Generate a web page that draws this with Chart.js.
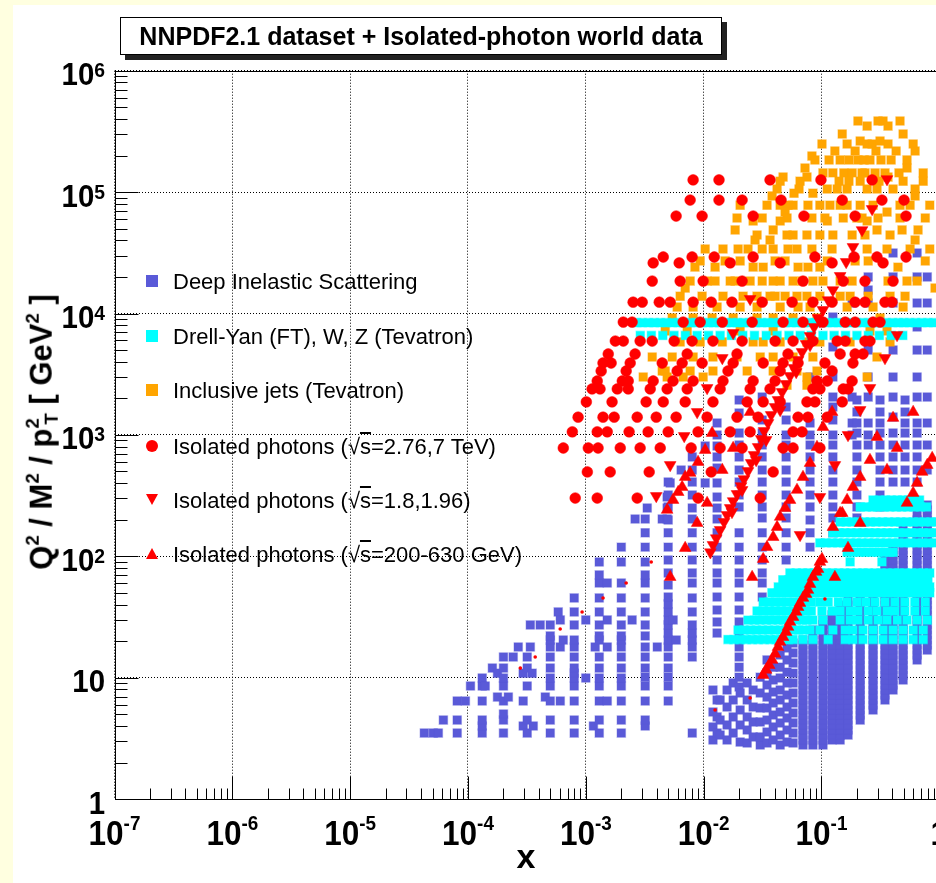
<!DOCTYPE html>
<html>
<head>
<meta charset="utf-8">
<script src="https://cdn.jsdelivr.net/npm/chart.js@4.4.1/dist/chart.umd.min.js"></script>
<style>
  html, body { margin: 0; padding: 0; background: #fff; overflow: hidden; }
  #wrap { position: relative; width: 936px; height: 883px; overflow: hidden; }
  .stripe-left { position: absolute; left: 0; top: 0; width: 13px; height: 883px; background: #ffffe0; }
  .stripe-top { position: absolute; left: 0; top: 0; width: 936px; height: 5px; background: #ffffe0; }
  #chart { position: absolute; left: 0; top: 0; }
  #title {
    position: absolute; left: 120px; top: 17px; width: 600px; height: 36px;
    border: 1px solid #000; background: #fff; box-shadow: 5px 5px 0 #222;
    font: bold 25px 'Liberation Sans', Arial, sans-serif; text-align: center; line-height: 37px;
  }
  #ytitle {
    position: absolute; left: 42px; top: 432px; white-space: nowrap; line-height: 1;
    transform: translate(-50%, -50%) rotate(-90deg);
    font: bold 31px 'Liberation Sans', Arial, sans-serif;
  }
  #ytitle sup { font-size: 0.6em; vertical-align: 0.7em; }
  #ytitle sub { font-size: 0.6em; vertical-align: -0.3em; }
  #ytitle .t { margin-left: -0.34em; }
  .leg { position: absolute; left: 146px; height: 24px; line-height: 24px; padding-left: 27px;
         font: 22px 'Liberation Sans', Arial, sans-serif; white-space: nowrap; }
  .mk { position: absolute; left: 0; }
  .sq { width: 12px; height: 12px; top: 6px; }
  .ci { width: 12px; height: 12px; top: 6px; border-radius: 50%; background: #f00; }
  .dn { width: 0; height: 0; top: 6px; border-left: 6px solid transparent; border-right: 6px solid transparent; border-top: 11px solid #f00; }
  .up { width: 0; height: 0; top: 6px; border-left: 6px solid transparent; border-right: 6px solid transparent; border-bottom: 11px solid #f00; }
  .ov { text-decoration: overline; }
</style>
</head>
<body>
<div id="wrap">
  <div class="stripe-left"></div>
  <div class="stripe-top"></div>
  <canvas id="chart" width="960" height="883"></canvas>
  <div id="title">NNPDF2.1 dataset + Isolated-photon world data</div>
  <div id="ytitle">Q<sup>2</sup> / M<sup>2</sup> / p<sup>2</sup><sub class="t">T</sub> [ GeV<sup>2</sup> ]</div>
  <div class="leg" style="top:269px"><span class="mk sq" style="background:#5a5ad8"></span>Deep Inelastic Scattering</div>
  <div class="leg" style="top:324px"><span class="mk sq" style="background:#00ffff"></span>Drell-Yan (FT), W, Z (Tevatron)</div>
  <div class="leg" style="top:378px"><span class="mk sq" style="background:#ffa500"></span>Inclusive jets (Tevatron)</div>
  <div class="leg" style="top:434px"><span class="mk ci"></span>Isolated photons (√<span class="ov">s</span>=2.76,7 TeV)</div>
  <div class="leg" style="top:488px"><span class="mk dn"></span>Isolated photons (√<span class="ov">s</span>=1.8,1.96)</div>
  <div class="leg" style="top:542px"><span class="mk up"></span>Isolated photons (√<span class="ov">s</span>=200-630 GeV)</div>
</div>
<script>
// axis decades
const xTickValues = [1e-7, 1e-6, 1e-5, 1e-4, 1e-3, 1e-2, 1e-1, 1];
const xTickLabels = [['10', '-7'], ['10', '-6'], ['10', '-5'], ['10', '-4'], ['10', '-3'], ['10', '-2'], ['10', '-1'], ['1', '']];
const yTickValues = [1, 10, 1e2, 1e3, 1e4, 1e5, 1e6];
const yTickLabels = [['1', ''], ['10', ''], ['10', '2'], ['10', '3'], ['10', '4'], ['10', '5'], ['10', '6']];

// Deep inelastic scattering: x bins and the Q2 values in each bin
const disX = [4.26e-5, 5.08e-5, 5.6e-5, 6.18e-5, 8.1e-5, 9.5e-5, 1.05e-4, 1.32e-4, 1.4e-4, 1.61e-4,
  1.78e-4, 2.0e-4, 2.2e-4, 2.42e-4, 2.67e-4, 2.94e-4, 3.18e-4, 3.38e-4, 3.5e-4, 3.58e-4,
  4.1e-4, 4.53e-4, 4.99e-4, 5.83e-4, 6.07e-4, 6.43e-4, 7.97e-4, 1.0e-3, 1.16e-3, 1.2e-3,
  1.3e-3, 1.52e-3, 2.0e-3, 2.47e-3, 2.62e-3, 3.19e-3, 3.32e-3, 4.04e-3, 4.45e-3, 4.9e-3,
  5.0e-3, 5.2e-3, 5.51e-3, 5.85e-3, 6.44e-3, 8.0e-3, 1.03e-2, 1.20e-2, 1.30e-2, 1.38e-2,
  1.58e-2, 1.78e-2, 2.0e-2, 2.04e-2, 2.34e-2, 2.63e-2, 3.02e-2, 3.14e-2, 3.45e-2, 3.89e-2,
  4.46e-2, 5.01e-2, 5.1e-2, 5.74e-2, 8.0e-2, 0.125, 0.182, 0.20, 0.249, 0.314,
  0.405, 0.512, 0.648, 0.79,
  6.97e-2, 8.46e-2, 0.103, 0.123, 0.144, 0.168, 0.213, 0.274, 0.346, 0.405, 0.493, 0.648, 0.79];
const disQ2 = [
  [3.5], [3.5], [3.5], [4.48], [3.5, 4.48, 6.43], [6.43], [8.54], [3.5, 4.0, 4.48, 6.43, 8.54, 9.94], [8.54], [12.0],
  [6.93, 10.9], [3.5, 4.48, 5.02, 6.43, 8.54, 9.94, 12.0, 14.8], [6.93], [14.8], [17.9], [4.0, 6.43, 10.9], [3.5, 4.48, 8.54, 12.0, 14.8], [17.9, 27.2], [10.9], [4.0],
  [27.2], [6.93], [3.5, 4.48, 6.43, 8.54, 9.94, 12.0, 14.8, 17.9, 20.4, 22.1, 27.2], [34.8], [6.43, 17.9, 29.9], [20.4],
  [3.5, 4.48, 6.43, 8.54, 9.94, 10.9, 12.0, 14.8, 17.9, 20.4, 27.2, 34.8, 45.4], [9.94, 29.9], [4.0], [17.9],
  [3.5, 4.48, 6.43, 8.54, 9.94, 12.0, 14.8, 20.4, 22.1, 27.2, 34.8, 45.4, 60.3, 70.2, 89.8],
  [6.43, 17.9, 29.9, 60.3],
  [3.5, 4.48, 6.43, 8.54, 9.94, 12.0, 14.8, 17.9, 20.4, 22.1, 27.2, 34.8, 45.4, 60.3, 89.8, 119],
  [29.9], [203],
  [4.0, 4.48, 6.43, 8.54, 10.1, 12.0, 14.8, 17.9, 22.1, 27.2, 34.8, 45.4, 60.3, 70.2, 89.8, 119, 156, 203],
  [250], [17.9], [203], [203, 250, 308],
  [6.43, 8.54, 10.1, 12.0, 14.8, 17.9, 20.4, 23.3, 27.2, 29.9, 34.8, 40.5, 46.2, 58.0, 72.9, 93.2, 119, 156, 199, 255, 320, 409],
  [402], [29.9], [20.4], [514],
  [3.5, 14.8, 17.9, 20.4, 23.3, 27.2, 34.8, 45.4, 60.3, 72.9, 93.2, 119, 156, 203, 250, 320, 409, 514, 658],
  [402, 810], [3.07, 3.93, 5.22, 7.92],
  [3.5, 4.75, 6.55, 23.3, 28.8, 36.1, 46.2, 60.3, 72.9, 93.2, 119, 156, 203, 250, 308, 402, 534, 658, 810, 998, 1253],
  [3.37, 4.48, 6.55],
  [3.07, 4.08, 5.74, 7.92], [3.5, 4.75, 6.55, 9.05],
  [8.38, 10.1, 12.2, 14.8, 17.9, 23.3, 28.8, 36.1, 46.2, 60.3, 72.9, 93.2, 119, 156, 255, 320, 409, 514, 658, 826, 1036, 1515, 1938],
  [2.95, 4.08, 5.42, 7.48], [2.9, 3.71, 4.75, 6.55, 9.05], [3.25, 4.32, 5.74, 7.92], [2.79, 3.25, 4.32, 5.63, 7.48, 10.1],
  [46.2, 60.3, 72.9, 93.2, 119, 156, 207, 255, 320, 409, 514, 658, 826, 1036, 1327, 2050],
  [2.9, 3.57, 4.48, 5.63, 6.93, 8.71, 10.9, 14.0], [3.07, 3.93, 4.93, 6.19, 7.62, 9.57, 12.2],
  [2.79, 3.37, 4.24, 5.22, 6.55, 7.92, 9.94, 12.2, 15.4],
  [93.2, 119, 156, 207, 255, 320, 409, 514, 658, 826, 998, 1327, 1697],
  [2.95, 3.71, 4.66, 5.74, 7.2, 9.05, 11.1, 14.0, 17.6],
  [2.9, 3.5, 4.24, 5.12, 6.19, 7.48, 9.05, 10.9, 13.2, 16.0, 19.3],
  [119, 156, 199, 255, 320, 409, 514, 658, 826, 998, 1253, 3000],
  [156, 207, 255, 320, 409, 514, 658, 826, 998, 1327, 1697, 2050, 3000, 5300, 9360],
  [998, 1253, 2050, 12200],
  [207, 255, 320, 409, 514, 658, 826, 1036, 1253, 1544, 1938],
  [826, 998, 1253, 2050, 3000, 5000, 12200, 15600, 20000],
  [255, 320, 409, 514, 658, 826, 1036, 1253, 1544, 1938],
  [409, 514, 658, 826, 1036, 1404, 2050, 3000, 5000, 12200, 20000, 31500],
  [409, 514, 658, 826, 1036, 1253, 1544, 1938],
  [409, 514, 658, 826, 1036, 1253, 2050, 3000, 5000, 7740, 12200, 20000, 31500],
  [514, 826, 1253, 2050, 5000, 12200, 20000],
  // fixed-target columns
  [2.79, 3.07, 3.37, 3.71, 4.08, 4.48, 4.93, 5.42, 5.96, 6.55, 7.2, 7.92, 8.71, 9.57, 10.5, 11.6, 12.7, 14.0, 15.4, 16.9, 18.6, 20.4],
  [2.79, 3.07, 3.37, 3.71, 4.08, 4.48, 4.93, 5.42, 5.96, 6.55, 7.2, 7.92, 8.71, 9.57, 10.5, 11.6, 12.7, 14.0, 15.4, 16.9, 18.6, 20.4, 22.5, 24.7],
  [2.79, 3.07, 3.37, 3.71, 4.08, 4.48, 4.93, 5.42, 5.96, 6.55, 7.2, 7.92, 8.71, 9.57, 10.5, 11.6, 12.7, 14.0, 15.4, 16.9, 18.6, 20.4, 22.5, 24.7, 27.2, 29.9],
  [3.07, 3.37, 3.71, 4.08, 4.48, 4.93, 5.42, 5.96, 6.55, 7.2, 7.92, 8.71, 9.57, 10.5, 11.6, 12.7, 14.0, 15.4, 16.9, 18.6, 20.4, 22.5, 24.7, 27.2, 29.9, 32.9],
  [3.07, 3.37, 3.71, 4.08, 4.48, 4.93, 5.42, 5.96, 6.55, 7.2, 7.92, 8.71, 9.57, 10.5, 11.6, 12.7, 14.0, 15.4, 16.9, 18.6, 20.4, 22.5, 24.7, 27.2, 29.9, 32.9, 36.1, 39.7],
  [3.37, 3.71, 4.08, 4.48, 4.93, 5.42, 5.96, 6.55, 7.2, 7.92, 8.71, 9.57, 10.5, 11.6, 12.7, 14.0, 15.4, 16.9, 18.6, 20.4, 22.5, 24.7, 27.2, 29.9, 32.9, 36.1, 39.7, 43.6],
  [4.48, 4.93, 5.42, 5.96, 6.55, 7.2, 7.92, 8.71, 9.57, 10.5, 11.6, 12.7, 14.0, 15.4, 16.9, 18.6, 20.4, 22.5, 24.7, 27.2, 29.9, 32.9, 36.1, 39.7, 43.6, 48.0, 52.8],
  [5.42, 5.96, 6.55, 7.2, 7.92, 8.71, 9.57, 10.5, 11.6, 12.7, 14.0, 15.4, 16.9, 18.6, 20.4, 22.5, 24.7, 27.2, 29.9, 32.9, 36.1, 39.7, 43.6, 48.0, 52.8, 58.0, 63.8, 70.2],
  [6.55, 7.2, 7.92, 8.71, 9.57, 10.5, 11.6, 12.7, 14.0, 15.4, 16.9, 18.6, 20.4, 22.5, 24.7, 27.2, 29.9, 32.9, 36.1, 39.7, 43.6, 48.0, 52.8, 58.0, 63.8, 70.2, 77.1, 84.8, 93.2],
  [7.92, 8.71, 9.57, 10.5, 11.6, 12.7, 14.0, 15.4, 16.9, 18.6, 20.4, 22.5, 24.7, 27.2, 29.9, 32.9, 36.1, 39.7, 43.6, 48.0, 52.8, 58.0, 63.8, 70.2, 77.1, 84.8, 93.2, 102.5, 112.7, 123.9],
  [9.57, 10.5, 11.6, 12.7, 14.0, 15.4, 16.9, 18.6, 20.4, 22.5, 24.7, 27.2, 29.9, 32.9, 36.1, 39.7, 43.6, 48.0, 52.8, 58.0, 63.8, 70.2, 77.1, 84.8, 93.2, 102.5, 112.7, 123.9, 136.2, 149.8, 164.7],
  [14.0, 15.4, 16.9, 18.6, 20.4, 22.5, 24.7, 27.2, 29.9, 32.9, 36.1, 39.7, 43.6, 48.0, 52.8, 58.0, 63.8, 70.2, 77.1, 84.8, 93.2, 102.5, 112.7, 123.9, 136.2, 149.8, 164.7, 181.1, 199.1, 218.9],
  [16.9, 18.6, 20.4, 22.5, 24.7, 27.2, 29.9, 32.9, 36.1, 39.7, 43.6, 48.0, 52.8, 58.0, 63.8, 70.2, 77.1, 84.8, 93.2, 102.5, 112.7, 123.9, 136.2, 149.8, 164.7, 181.1, 199.1, 218.9, 240.6, 264.6]
];

// Drell-Yan / W / Z: each row is one mass bin (M2) with its x points
const dyM2 = [8400, 6600, 291, 255, 192, 156, 129, 108, 90,
  73, 64, 56, 50, 42, 35.4, 29.8, 24.7, 20.6];
const dyX = [
  [2.7e-3, 3.0e-3, 3.4e-3, 3.8e-3, 4.3e-3, 4.8e-3, 5.4e-3, 6.1e-3, 6.8e-3, 7.7e-3, 8.6e-3, 9.7e-3, 1.09e-2, 1.22e-2, 1.37e-2,
   1.54e-2, 1.73e-2, 1.94e-2, 2.18e-2, 2.45e-2, 2.75e-2, 3.1e-2, 3.5e-2, 3.9e-2, 4.4e-2, 4.9e-2, 5.5e-2, 6.2e-2, 7.0e-2,
   7.8e-2, 8.8e-2, 9.9e-2, 0.111, 0.125, 0.140, 0.157, 0.177, 0.198, 0.223, 0.25, 0.28, 0.315, 0.355, 0.40, 0.45, 0.50,
   0.56, 0.63, 0.71, 0.80, 0.90],
  [2.9e-3, 3.6e-3, 4.5e-3, 5.6e-3, 7.0e-3, 8.8e-3, 1.1e-2, 1.38e-2, 1.72e-2, 2.15e-2, 2.7e-2, 3.4e-2, 4.2e-2, 5.3e-2,
   6.6e-2, 8.2e-2, 0.103, 0.128, 0.16, 0.20, 0.25, 0.31, 0.39, 0.49],
  [0.274, 0.31, 0.35, 0.39, 0.44, 0.49, 0.55, 0.62, 0.68],
  [0.213, 0.24, 0.27, 0.30, 0.34, 0.38, 0.43, 0.48, 0.54, 0.61, 0.69, 0.78],
  [0.144, 0.162, 0.182, 0.205, 0.23, 0.26, 0.29, 0.33, 0.37, 0.42, 0.47, 0.53, 0.60, 0.67, 0.75, 0.85, 0.95],
  [0.125, 0.141, 0.158, 0.178, 0.20, 0.225, 0.253, 0.285, 0.32, 0.36, 0.405, 0.455, 0.51, 0.58, 0.65, 0.73, 0.82, 0.93],
  [0.097, 0.109, 0.123, 0.138, 0.155, 0.175, 0.197, 0.22, 0.25, 0.28, 0.315, 0.355, 0.40, 0.45, 0.51, 0.57, 0.64, 0.72, 0.81, 0.91],
  [0.165, 0.186, 0.21, 0.236, 0.265, 0.30, 0.335, 0.38, 0.405],
  [0.175, 0.326],
  [0.054, 0.061, 0.069, 0.077, 0.087, 0.098, 0.11, 0.124, 0.14, 0.157, 0.177, 0.2, 0.225, 0.25, 0.285, 0.32, 0.36, 0.405,
   0.455, 0.51, 0.58, 0.65, 0.73, 0.83],
  [0.047, 0.053, 0.06, 0.067, 0.075, 0.085, 0.095, 0.107, 0.12, 0.135, 0.152, 0.171, 0.193, 0.217, 0.244, 0.275, 0.31, 0.35,
   0.39, 0.44, 0.50, 0.56, 0.63, 0.71, 0.80],
  [0.043, 0.048, 0.054, 0.061, 0.069, 0.077, 0.087, 0.098, 0.11, 0.124, 0.14, 0.157, 0.177, 0.2, 0.225, 0.25, 0.285, 0.32,
   0.36, 0.405, 0.455, 0.51, 0.58, 0.65, 0.73, 0.83],
  [0.038, 0.043, 0.048, 0.054, 0.061, 0.069, 0.077, 0.087, 0.098, 0.11, 0.124, 0.14, 0.157, 0.177, 0.2, 0.225, 0.25, 0.285,
   0.32, 0.36, 0.405, 0.455, 0.51, 0.58, 0.65, 0.73, 0.83],
  [0.032, 0.036, 0.0405, 0.0455, 0.051, 0.058, 0.065, 0.073, 0.082, 0.097, 0.114, 0.139, 0.165, 0.20, 0.238, 0.285, 0.346,
   0.42, 0.51, 0.62, 0.76],
  [0.0284, 0.032, 0.036, 0.0405, 0.0455, 0.051, 0.058, 0.065, 0.073, 0.082, 0.101, 0.123, 0.144, 0.175, 0.204, 0.249, 0.296,
   0.36, 0.42, 0.51, 0.62, 0.76],
  [0.0238, 0.027, 0.030, 0.034, 0.038, 0.043, 0.048, 0.054, 0.061, 0.069, 0.075, 0.0846, 0.103, 0.144, 0.175, 0.204, 0.249,
   0.302, 0.36, 0.44, 0.532, 0.648, 0.79],
  [0.0196, 0.022, 0.025, 0.028, 0.0315, 0.0355, 0.040, 0.045, 0.050, 0.057, 0.064, 0.0697, 0.080, 0.097, 0.125, 0.159, 0.185,
   0.225, 0.274, 0.333, 0.405, 0.493, 0.60, 0.73],
  [0.0161, 0.0181, 0.0204, 0.023, 0.0258, 0.029, 0.0326, 0.0367, 0.0413, 0.0465, 0.0523, 0.0574, 0.0697, 0.0846, 0.114,
   0.159, 0.185, 0.225, 0.274, 0.333, 0.405, 0.493, 0.60, 0.73]
];

// Inclusive jets: rows of pT2 with their x points
const jetsPt2 = [3.85e5, 3.5e5, 3.01e5, 2.63e5, 2.49e5, 2.18e5, 1.98e5, 1.84e5, 1.58e5, 1.44e5, 1.33e5, 1.23e5, 1.06e5,
  9.8e4, 9.3e4, 7.8e4, 6.85e4, 6.12e4, 5.78e4, 4.88e4, 4.43e4, 4.03e4, 3.4e4, 2.71e4, 2.41e4, 1.85e4, 1.62e4, 1.39e4,
  1.13e4, 9.2e3, 7.18e3, 5.83e3, 4.38e3, 3.36e3, 3.0e3, 2.57e3];
const jetsX = [
  [0.204, 0.302, 0.333, 0.464], [0.244, 0.367], [0.150, 0.493], [0.213, 0.314],
  [0.101, 0.165, 0.244, 0.269, 0.367, 0.60], [0.130, 0.193, 0.29, 0.43, 0.623], [0.083],
  [0.088, 0.116, 0.144, 0.171, 0.204, 0.230, 0.258, 0.320, 0.39, 0.532], [0.0725, 0.532],
  [0.103, 0.125, 0.155, 0.182, 0.221, 0.234, 0.285, 0.346, 0.455, 0.73], [0.0472, 0.0753, 0.367],
  [0.0446, 0.0658, 0.141, 0.171, 0.213, 0.308, 0.493, 0.73],
  [0.042, 0.0645, 0.112, 0.136, 0.165, 0.244, 0.296, 0.405, 0.623], [0.0585, 0.0846], [0.0381, 0.623],
  [0.0204, 0.0345, 0.0446, 0.052, 0.0574, 0.0768, 0.097, 0.118, 0.144, 0.165, 0.213, 0.274, 0.464, 0.565, 0.83],
  [0.0491, 0.36],
  [0.0192, 0.0314, 0.051, 0.083, 0.107, 0.153, 0.20, 0.221, 0.302, 0.464, 0.76],
  [0.0263, 0.0446, 0.112, 0.244], [0.0185, 0.0389, 0.296, 0.483, 0.66],
  [0.0284, 0.051, 0.0574, 0.0753, 0.097, 0.125, 0.182, 0.234, 0.382], [0.0273, 0.0366, 0.623],
  [0.0103, 0.0146, 0.0196, 0.0238, 0.0314, 0.0389, 0.052, 0.062, 0.083, 0.123, 0.244, 0.36, 0.565, 0.83],
  [0.00934, 0.0152, 0.0204, 0.0404, 0.0491, 0.112, 0.193, 0.249, 0.76],
  [0.00844, 0.0125, 0.0263, 0.032, 0.0633, 0.0768, 0.097, 0.446],
  [0.00768, 0.0107, 0.0125, 0.0168, 0.0185, 0.0248, 0.0314, 0.0389, 0.0446, 0.0574, 0.0684, 0.0846, 0.103, 0.144, 0.182,
   0.367, 0.532, 0.648],
  [0.00697, 0.92],
  [0.00632, 0.0097, 0.0146, 0.0216, 0.0284, 0.0366, 0.0404, 0.0491, 0.062, 0.0753, 0.097, 0.144, 0.175, 0.249, 0.382, 0.512],
  [0.00596, 0.00814, 0.013, 0.0204, 0.0284, 0.0446, 0.0633, 0.080, 0.165, 0.274, 0.493],
  [0.00541, 0.00814, 0.0118, 0.0178, 0.0284, 0.0389, 0.0574, 0.0916, 0.314],
  [0.00472, 0.00725, 0.0204, 0.0389, 0.258, 0.36],
  [0.00632, 0.00934, 0.0144, 0.0263, 0.032, 0.0446, 0.0753, 0.097, 0.175, 0.382],
  [0.00366, 0.00541, 0.00814, 0.012, 0.0192, 0.0302, 0.0389, 0.0574, 0.0846, 0.296],
  [0.00445, 0.00472, 0.00768, 0.012, 0.0234, 0.0389, 0.062, 0.0916],
  [0.00307, 0.0049, 0.0067, 0.0099, 0.0753, 0.244],
  [0.051, 0.0753, 0.0916]
];

// Isolated photons, LHC (2.76, 7 TeV): rows of pT2 with their x points
const lhcPt2 = [1.26e5, 8.6e4, 6.35e4, 2.92e4, 2.61e4, 1.85e4, 1.24e4, 8.5e3, 5.93e3, 4.64e3, 3.91e3, 3.36e3, 2.78e3,
  2.39e3, 1.87e3, 1.40e3, 1.06e3, 780, 495, 302];
const lhcX = [
  [8.14e-3, 1.35e-2, 3.66e-2, 9.9e-2, 0.269],
  [7.68e-3, 1.35e-2, 2.12e-2, 4.54e-2, 0.150, 0.326, 0.502],
  [5.84e-3, 9.7e-3, 2.63e-2, 7.1e-2, 0.193, 0.522],
  [4.54e-3, 7.98e-3, 1.23e-2, 2.63e-2, 8.8e-2, 0.189, 0.296, 0.522],
  [3.73e-3, 6.2e-3, 1.68e-2, 4.46e-2, 0.123, 0.333],
  [3.66e-3, 6.32e-3, 9.9e-3, 2.12e-2, 6.97e-2, 0.153, 0.234, 0.405],
  [2.52e-3, 3.01e-3, 4.2e-3, 5.2e-3, 8.14e-3, 1.16e-2, 1.74e-2, 3.14e-2, 5.63e-2, 8.46e-2, 0.123, 0.193, 0.234, 0.346, 0.397],
  [2.08e-3, 2.47e-3, 6.7e-3, 9.34e-3, 1.44e-2, 2.58e-2, 4.72e-2, 6.97e-2, 0.103, 0.159, 0.193, 0.274, 0.314],
  [1.78e-3, 2.08e-3, 2.89e-3, 3.66e-3, 5.62e-3, 7.98e-3, 1.2e-2, 2.12e-2, 4.04e-2, 5.74e-2, 8.46e-2, 0.136, 0.159, 0.234, 0.258],
  [1.55e-3, 2.62e-3, 7.25e-3, 1.92e-2, 5.2e-2, 0.144, 0.193, 0.225],
  [1.40e-3, 1.64e-3, 2.38e-3, 4.45e-3, 6.57e-3, 9.7e-3, 1.78e-2, 3.2e-2, 4.72e-2, 6.33e-2, 0.107, 0.185],
  [1.35e-3, 2.2e-3, 5.96e-3, 1.61e-2, 4.46e-2, 0.123],
  [1.25e-3, 2.04e-3, 2.29e-3, 3.73e-3, 5.5e-3, 8.14e-3, 1.46e-2, 2.63e-2, 4.04e-2, 9.16e-2, 0.112, 0.182],
  [1.13e-3, 1.32e-3, 1.85e-3, 2.29e-3, 3.52e-3, 4.9e-3, 7.25e-3, 1.38e-2, 2.48e-2, 3.66e-2, 8.46e-2, 9.7e-2, 0.153, 0.168],
  [1.01e-3, 1.67e-3, 3.25e-3, 4.54e-3, 6.97e-3, 1.2e-2, 2.34e-2, 3.2e-2, 4.46e-2, 7.53e-2, 8.8e-2, 0.150],
  [8.6e-4, 1.40e-3, 1.74e-3, 2.73e-3, 3.96e-3, 5.84e-3, 1.07e-2, 1.92e-2, 2.9e-2, 6.33e-2, 7.68e-2, 0.112],
  [7.68e-4, 1.25e-3, 1.52e-3, 2.33e-3, 3.38e-3, 5.0e-3, 8.97e-3, 1.68e-2, 2.48e-2, 5.74e-2, 6.84e-2],
  [6.44e-4, 1.05e-3, 1.27e-3, 1.96e-3, 2.89e-3, 4.28e-3, 7.83e-3, 1.38e-2, 2.12e-2, 4.72e-2, 5.74e-2, 9.7e-2],
  [1.03e-3, 1.61e-3, 3.45e-3, 1.16e-2, 3.89e-2],
  [8.13e-4, 1.25e-3, 2.73e-3, 8.97e-3, 3.02e-2]
];

// Isolated photons, Tevatron (1.8, 1.96 TeV): [x, pT2]
const tevatronPhotons = [
  [1.14e-2, 108], [1.20e-2, 124], [1.28e-2, 141], [1.38e-2, 165], [1.49e-2, 192], [1.58e-2, 219], [1.68e-2, 250],
  [1.78e-2, 285], [1.92e-2, 326], [2.08e-2, 379], [2.2e-2, 433], [2.38e-2, 504], [2.53e-2, 587], [2.68e-2, 683],
  [2.9e-2, 795], [3.08e-2, 925], [3.26e-2, 1077], [3.52e-2, 1253], [3.74e-2, 1458], [4.04e-2, 1697], [4.28e-2, 1938],
  [4.63e-2, 2256], [5.01e-2, 2626], [5.41e-2, 3056], [5.85e-2, 3557], [6.33e-2, 4140], [6.84e-2, 4818], [7.4e-2, 5608],
  [8.0e-2, 6527], [8.65e-2, 7740], [9.35e-2, 9180], [0.103, 1.07e4], [0.114, 1.29e4], [0.125, 1.56e4], [0.144, 2.04e4],
  [0.162, 2.66e4], [0.185, 3.53e4], [0.221, 4.87e4], [0.269, 7.26e4], [0.36, 1.28e5],
  [1.74e-2, 232], [2.12e-2, 352], [2.79e-2, 621], [3.39e-2, 908], [4.46e-2, 1604], [6.1e-2, 3297], [8.0e-2, 5503], [9.7e-2, 8627],
  [3.96e-3, 314], [5.2e-3, 565], [6.84e-3, 979], [8.81e-3, 1544], [1.07e-2, 2435], [1.44e-2, 4300], [1.78e-2, 6910], [2.48e-2, 1.32e4],
  [6.58e-2, 150], [9.7e-2, 308], [0.130, 565], [0.168, 998], [0.213, 1604], [0.258, 2435], [0.346, 4300], [0.438, 6650]
];

// Isolated photons, fixed target / SppS / RHIC (200-630 GeV): [x, pT2]
const lowEnergyPhotons = [
  [3.2e-2, 10.5], [3.39e-2, 11.6], [3.6e-2, 12.7], [3.81e-2, 14.0], [4.04e-2, 15.7], [4.28e-2, 17.9], [4.46e-2, 19.7],
  [4.72e-2, 21.6], [5.01e-2, 23.8], [5.2e-2, 26.2], [5.41e-2, 28.8], [5.74e-2, 31.6], [6.1e-2, 34.8], [6.33e-2, 38.2],
  [6.58e-2, 41.2], [6.97e-2, 45.4], [7.4e-2, 48.9], [7.68e-2, 52.8], [8.0e-2, 59.1], [8.46e-2, 67.5], [9.0e-2, 74.3],
  [9.35e-2, 78.6], [9.7e-2, 89.8], [0.101, 95.0],
  [0.125, 174], [0.144, 227], [0.165, 291], [0.185, 372], [0.213, 450], [0.258, 621], [0.296, 961],
  [3.2e-2, 95], [3.45e-2, 119], [3.89e-2, 144], [4.2e-2, 174], [4.46e-2, 211], [4.91e-2, 250], [5.41e-2, 291],
  [6.2e-2, 352], [6.97e-2, 450], [8.0e-2, 587], [9.16e-2, 795],
  [4.9e-3, 241], [5.5e-3, 291], [6.08e-3, 338], [6.57e-3, 372], [6.97e-3, 450], [7.68e-3, 486], [8.97e-3, 598],
  [1.03e-2, 751], [1.18e-2, 1036],
  [0.532, 275], [0.60, 332], [0.648, 402], [0.714, 495], [0.79, 565], [0.87, 645],
  [5.2e-3, 67.5], [2.58e-2, 67.5], [0.130, 67.5], [6.97e-3, 117], [8.81e-3, 188], [1.07e-2, 275], [1.44e-2, 514],
  [1.78e-2, 780], [2.48e-2, 1544], [0.123, 1544], [0.405, 1379], [0.60, 1544], [0.438, 780], [0.36, 514],
  [0.168, 117], [0.213, 188], [0.150, 227], [0.103, 1160]
];

// small red points (not in legend)
const smallPoints = [
  [3.59e-3, 89.8], [2.2e-3, 60.3], [1.40e-3, 45.4], [9.3e-4, 34.8], [6.06e-4, 25.2], [3.72e-4, 14.8], [2.78e-4, 12.0],
  [1.25e-2, 5.42], [2.48e-2, 6.8], [0.107, 44.5]
];

function fromColumns(xs, ys) {
  const pts = [];
  xs.forEach((x, i) => ys[i].forEach(y => pts.push({ x, y })));
  return pts;
}
function fromRows(ys, xs) {
  const pts = [];
  ys.forEach((y, i) => xs[i].forEach(x => pts.push({ x, y })));
  return pts;
}
const fromPairs = arr => arr.map(([x, y]) => ({ x, y }));

const FONT = "'Liberation Sans', Arial, Helvetica, sans-serif";

// ROOT-like frame, inward ticks and exponent labels
const rootAxes = {
  id: 'rootAxes',
  afterDraw(chart) {
    const { ctx, chartArea: a, scales: { x, y } } = chart;
    const L = Math.round(a.left) + 0.5, B = Math.round(a.bottom) + 0.5, T = Math.round(a.top) + 0.5;
    ctx.save();
    ctx.strokeStyle = '#000';
    ctx.lineWidth = 1;
    ctx.beginPath();
    for (let e = -7; e < 0; e++) {
      for (let m = 1; m < 10; m++) {
        const px = Math.round(x.getPixelForValue(m * Math.pow(10, e))) + 0.5;
        ctx.moveTo(px, B);
        ctx.lineTo(px, B - (m === 1 ? 23 : 11));
      }
    }
    for (let e = 0; e < 6; e++) {
      for (let m = 1; m < 10; m++) {
        const py = Math.round(y.getPixelForValue(m * Math.pow(10, e))) + 0.5;
        ctx.moveTo(L, py);
        ctx.lineTo(L + (m === 1 ? 23 : 12), py);
      }
    }
    ctx.stroke();
    ctx.strokeRect(L, T, Math.round(a.right) - L + 0.5, B - T);

    ctx.fillStyle = '#000';
    ctx.textBaseline = 'alphabetic';
    ctx.textAlign = 'left';
    const drawPow = (base, exp, anchorX, baseline, align, big, small, sx, raise) => {
      ctx.font = `bold ${big}px ${FONT}`;
      const w1 = ctx.measureText(base).width * sx;
      ctx.font = `bold ${small}px ${FONT}`;
      const w2 = exp ? ctx.measureText(exp).width * sx : 0;
      const total = w1 + w2;
      const x0 = align === 'center' ? anchorX - total / 2 : anchorX - total;
      ctx.save();
      ctx.translate(x0, baseline);
      ctx.scale(sx, 1);
      ctx.font = `bold ${big}px ${FONT}`;
      ctx.fillText(base, 0, 0);
      if (exp) {
        ctx.font = `bold ${small}px ${FONT}`;
        ctx.fillText(exp, w1 / sx, -raise);
      }
      ctx.restore();
    };
    xTickValues.forEach((v, i) => {
      const [b, e] = xTickLabels[i];
      drawPow(b, e, x.getPixelForValue(v), 845, 'center', 35, 21, 0.9, 15);
    });
    yTickValues.forEach((v, i) => {
      const [b, e] = yTickLabels[i];
      drawPow(b, e, 105, y.getPixelForValue(v) + 14.5, 'right', 32, 21, 0.92, 8);
    });
    // x axis title
    ctx.font = `bold 34px ${FONT}`;
    ctx.textAlign = 'center';
    ctx.fillText('x', 526, 868);
    ctx.restore();
  }
};

const isDecade = v => Math.abs(Math.log10(v) - Math.round(Math.log10(v))) < 1e-6;

new Chart(document.getElementById('chart'), {
  type: 'scatter',
  data: {
    datasets: [
      {
        label: 'small', data: fromPairs(smallPoints), order: 1,
        pointStyle: 'circle', pointRadius: 1.8, backgroundColor: '#ff0000', borderWidth: 0
      },
      {
        label: 'Isolated photons (200-630 GeV)', data: fromPairs(lowEnergyPhotons), order: 2,
        pointStyle: 'triangle', pointRadius: 6.8, backgroundColor: '#ff0000', borderColor: '#ff0000', borderWidth: 0.5
      },
      {
        label: 'Isolated photons (1.8,1.96)', data: fromPairs(tevatronPhotons), order: 3,
        pointStyle: 'triangle', pointRotation: 180, pointRadius: 6.8, backgroundColor: '#ff0000', borderColor: '#ff0000', borderWidth: 0.5
      },
      {
        label: 'Isolated photons (2.76,7 TeV)', data: fromRows(lhcPt2, lhcX), order: 4,
        pointStyle: 'circle', pointRadius: 5.4, backgroundColor: '#ff0000', borderColor: '#ff0000', borderWidth: 0.5
      },
      {
        label: 'Drell-Yan (FT), W, Z (Tevatron)', data: fromRows(dyM2, dyX), order: 5,
        pointStyle: 'rect', pointRadius: 6, backgroundColor: '#00ffff', borderColor: 'rgba(0,255,255,0.4)', borderWidth: 1.2
      },
      {
        label: 'Inclusive jets (Tevatron)', data: fromRows(jetsPt2, jetsX), order: 6,
        pointStyle: 'rect', pointRadius: 6, backgroundColor: '#ffa500', borderColor: 'rgba(255,165,0,0.4)', borderWidth: 1.2
      },
      {
        label: 'Deep Inelastic Scattering', data: fromColumns(disX, disQ2), order: 7,
        pointStyle: 'rect', pointRadius: 6, backgroundColor: '#5a5ad8', borderColor: 'rgba(90,90,216,0.35)', borderWidth: 1.2
      }
    ]
  },
  options: {
    responsive: false,
    animation: false,
    events: [],
    layout: { padding: { left: 114.5, right: 20.7, top: 70.7, bottom: 83.9 } },
    plugins: { legend: { display: false }, tooltip: { enabled: false } },
    scales: {
      x: {
        type: 'logarithmic', min: 1e-7, max: 1,
        afterBuildTicks: s => { s.ticks = xTickValues.map(v => ({ value: v })); },
        afterFit: s => { s.height = 0; },
        ticks: { display: false },
        grid: { drawTicks: false, lineWidth: 1, color: c => (c.tick && isDecade(c.tick.value)) ? '#000' : 'rgba(0,0,0,0)' },
        border: { display: false, dash: [1, 2] }
      },
      y: {
        type: 'logarithmic', min: 1, max: 1e6,
        afterBuildTicks: s => { s.ticks = yTickValues.map(v => ({ value: v })); },
        afterFit: s => { s.width = 0; },
        ticks: { display: false },
        grid: { drawTicks: false, lineWidth: 1, color: c => (c.tick && isDecade(c.tick.value)) ? '#000' : 'rgba(0,0,0,0)' },
        border: { display: false, dash: [1, 2] }
      }
    }
  },
  plugins: [rootAxes]
});
</script>
</body>
</html>
